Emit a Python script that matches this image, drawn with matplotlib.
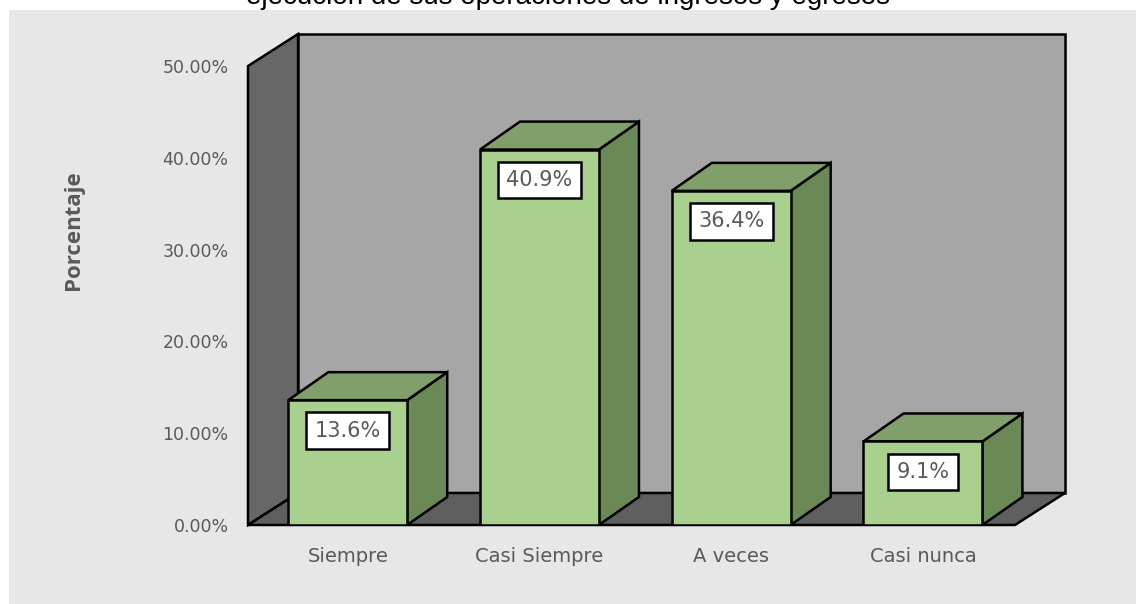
import matplotlib.pyplot as plt
from matplotlib.patches import Polygon, Rectangle

categories = ["Siempre", "Casi Siempre", "A veces", "Casi nunca"]
values = [0.136, 0.409, 0.364, 0.091]
labels = ["13.6%", "40.9%", "36.4%", "9.1%"]
yticks = [0.0, 0.1, 0.2, 0.3, 0.4, 0.5]

title = "ejecución de sus operaciones de ingresos y egresos"

# 3d look: depth offsets in data units
WALL_DX, WALL_DY = 0.261, 0.0349
BAR_DX, BAR_DY = 0.209, 0.0305
BAR_W = 0.62
YMAX = 0.5

FRONT = "#a9d08e"
TOP = "#809f6a"
SIDE = "#6b8857"
TXT = "#595959"

fig = plt.figure(figsize=(11.36, 6.04), dpi=100)
fig.patch.set_facecolor("white")
bg = Rectangle((9 / 1136, 0), 1127 / 1136, 594 / 604, transform=fig.transFigure,
               facecolor="#e7e7e7", edgecolor="none", zorder=-5)
fig.add_artist(bg)

# title is cut at the top edge, as in the original
fig.text(0.5, 1 - 4 / 604, title, ha="center", va="baseline",
         fontsize=20, family="Liberation Sans", color="black")

ax = fig.add_axes([248 / 1136, 79 / 604, 817 / 1136, 491 / 604])
ax.set_facecolor("none")
n = len(categories)
ax.set_xlim(0, n + WALL_DX)
ax.set_ylim(0, YMAX + WALL_DY)

ec = dict(edgecolor="black", linewidth=1.8, joinstyle="miter")
# walls and floor
ax.add_patch(Polygon([(0, 0), (0, YMAX), (WALL_DX, YMAX + WALL_DY), (WALL_DX, WALL_DY)],
                     facecolor="#676767", zorder=1, clip_on=False, **ec))
ax.add_patch(Polygon([(WALL_DX, WALL_DY), (n + WALL_DX, WALL_DY),
                      (n + WALL_DX, YMAX + WALL_DY), (WALL_DX, YMAX + WALL_DY)],
                     facecolor="#a6a6a6", zorder=1, clip_on=False, **ec))
ax.add_patch(Polygon([(0, 0), (n, 0), (n + WALL_DX, WALL_DY), (WALL_DX, WALL_DY)],
                     facecolor="#5f5f5f", zorder=1, clip_on=False, **ec))

xs = [i + 0.52 for i in range(n)]
for x, v in zip(xs, values):
    l, r = x - BAR_W / 2, x + BAR_W / 2
    ax.add_patch(Polygon([(r, 0), (r + BAR_DX, BAR_DY), (r + BAR_DX, v + BAR_DY), (r, v)],
                         facecolor=SIDE, zorder=2, **ec))
    ax.add_patch(Polygon([(l, v), (r, v), (r + BAR_DX, v + BAR_DY), (l + BAR_DX, v + BAR_DY)],
                         facecolor=TOP, zorder=2, **ec))
ax.bar(xs, values, width=BAR_W, color=FRONT, edgecolor="black", linewidth=1.8, zorder=3)

for x, v, lab in zip(xs, values, labels):
    ax.annotate(lab, (x, v), xytext=(0, -22), textcoords="offset points",
                ha="center", va="center", fontsize=15, color=TXT, zorder=4,
                family="DejaVu Sans",
                bbox=dict(boxstyle="square,pad=0.4", facecolor="white",
                          edgecolor="black", linewidth=1.8))

ax.set_xticks(xs)
ax.set_xticklabels(categories, fontsize=14, color=TXT)
ax.set_yticks(yticks)
ax.set_yticklabels([f"{t:.2%}" for t in yticks], fontsize=12.5, color=TXT)
ax.tick_params(length=0)
ax.tick_params(axis="x", pad=16)
ax.tick_params(axis="y", pad=14)
for s in ax.spines.values():
    s.set_visible(False)

fig.text(73 / 1136, 1 - 230 / 604, "Porcentaje", rotation=90, ha="center", va="center",
         fontsize=16, fontweight="bold", color=TXT, family="Open Sans")

fig.savefig("out.png", dpi=100)
